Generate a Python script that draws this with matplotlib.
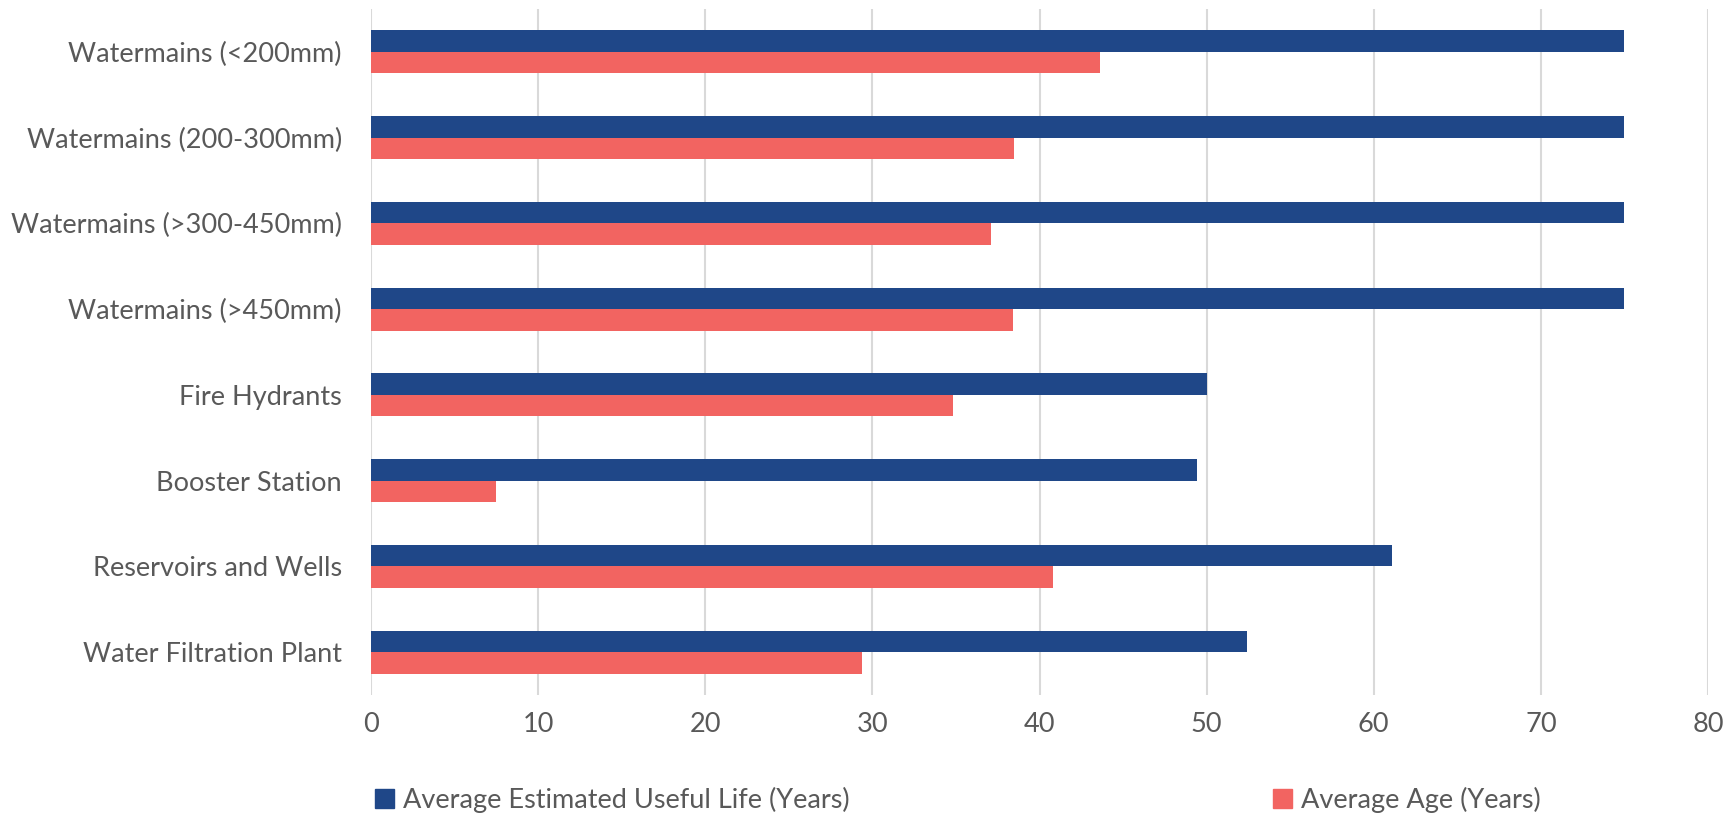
import numpy as np
import matplotlib
matplotlib.use("Agg")
import matplotlib.pyplot as plt
from matplotlib.patches import Patch

plt.rcParams['font.family'] = ['Lato', 'DejaVu Sans']

categories = [
    "Watermains (<200mm)",
    "Watermains (200-300mm)",
    "Watermains (>300-450mm)",
    "Watermains (>450mm)",
    "Fire Hydrants",
    "Booster Station",
    "Reservoirs and Wells",
    "Water Filtration Plant",
]
useful_life = [75.0, 75.0, 75.0, 75.0, 50.0, 49.4, 61.1, 52.4]
avg_age = [43.6, 38.5, 37.1, 38.4, 34.8, 7.5, 40.8, 29.4]
x_ticks = [0, 10, 20, 30, 40, 50, 60, 70, 80]

BLUE = "#1F4788"
RED = "#F26461"
TEXT = "#595959"
GRID = "#D9D9D9"
FS = 19.5

fig = plt.figure(figsize=(17.31, 8.19), dpi=100)
ax = fig.add_axes([371 / 1731, 1 - 695 / 819, (1708 - 371) / 1731, (695 - 9) / 819])

y = np.arange(len(categories))
h = 0.25
ax.barh(y - h / 2, useful_life, height=h, color=BLUE, zorder=3)
ax.barh(y + h / 2, avg_age, height=h, color=RED, zorder=3)

ax.set_ylim(len(categories) - 0.5, -0.5)
ax.set_xlim(0, 80)
ax.set_xticks(x_ticks)
ax.set_yticks(y)
ax.set_yticklabels(categories)

for s in ax.spines.values():
    s.set_visible(False)
ax.grid(axis="x", color=GRID, linewidth=1.5, zorder=0)
ax.tick_params(axis="both", length=0, colors=TEXT, labelsize=FS)
ax.tick_params(axis="y", pad=21)
ax.tick_params(axis="x", pad=12)

leg_kw = dict(frameon=False, fontsize=FS, handlelength=0.7, handleheight=0.7,
              handletextpad=0.35, borderpad=0, borderaxespad=0, labelcolor=TEXT)
fig.legend(handles=[Patch(color=BLUE, label="Average Estimated Useful Life (Years)")],
           loc="center left", bbox_to_anchor=(375 / 1731, 1 - 800 / 819), **leg_kw)
fig.legend(handles=[Patch(color=RED, label="Average Age (Years)")],
           loc="center left", bbox_to_anchor=(1273 / 1731, 1 - 800 / 819), **leg_kw)

fig.savefig("out.png", dpi=100)
